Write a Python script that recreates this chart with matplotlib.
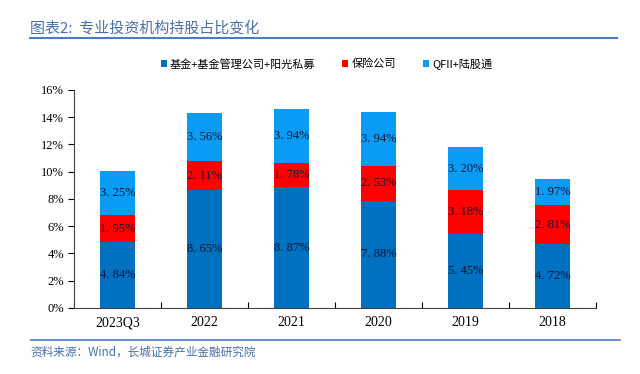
import matplotlib
matplotlib.use('Agg')
import matplotlib.pyplot as plt
import numpy as np

# data
periods = ['2023Q3', '2022', '2021', '2020', '2019', '2018']
fund = [4.84, 8.65, 8.87, 7.88, 5.45, 4.72]
insurance = [1.95, 2.11, 1.78, 2.53, 3.18, 2.81]
qfii = [3.25, 3.56, 3.94, 3.94, 3.20, 1.97]
series_names = ['基金+基金管理公司+阳光私募', '保险公司', 'QFII+陆股通']
yticks = [0, 2, 4, 6, 8, 10, 12, 14, 16]

colors = ['#0070C0', '#FF0000', '#0A9CF5']
serif = ['Liberation Serif', 'Noto Sans CJK SC']
cjk = ['Noto Sans CJK SC', 'DejaVu Sans']
title_color = '#4A6FA5'

plt.rcParams['font.family'] = serif

fig = plt.figure(figsize=(6.4, 3.74), dpi=100)
ax = fig.add_axes([0.1156, 0.1765, 0.8156, 0.5829])

x = np.arange(len(periods))
bottom = np.zeros(len(periods))
for vals, c, name in zip([fund, insurance, qfii], colors, series_names):
    ax.bar(x, vals, width=0.4, bottom=bottom, color=c, label=name)
    for xi, b, v in zip(x, bottom, vals):
        txt = ('%.2f%%' % v).replace('.', '. ')
        ax.text(xi, b + v / 2, txt, ha='center', va='center', fontsize=9,
                color='#151530', family=serif)
    bottom = bottom + np.array(vals)

ax.set_xlim(-0.5, len(periods) - 0.5)
ax.set_ylim(0, 16)
ax.set_yticks(yticks)
ax.set_yticklabels(['%d%%' % t for t in yticks], fontsize=9)
ax.set_xticks(np.arange(len(periods) + 1) - 0.5, minor=False)
ax.set_xticklabels([])
ax.set_xticks(x, minor=True)
ax.set_xticklabels(periods, minor=True, fontsize=10)
ax.tick_params(axis='x', which='minor', length=0, pad=6)
ax.tick_params(axis='x', which='major', length=4, direction='in', width=0.8)
ax.tick_params(axis='y', length=4, direction='out', width=0.8, pad=3)
for s in ['top', 'right']:
    ax.spines[s].set_visible(False)
ax.spines['left'].set_color('#444444')
ax.spines['bottom'].set_color('#444444')

fig.legend(loc='center', bbox_to_anchor=(0.51, 0.829), ncol=3, frameon=False,
           prop={'family': cjk, 'size': 8}, handlelength=0.55, handleheight=0.55,
           handletextpad=0.3, columnspacing=2.4)

# title and source
fig.text(0.047, 0.925, '图表2:  专业投资机构持股占比变化', fontsize=10.8, color=title_color,
         style='italic', family=cjk, va='center')
fig.add_artist(plt.Line2D([0.047, 0.964], [0.898, 0.898], color='#4A7CC4', lw=1.5))
fig.add_artist(plt.Line2D([0.048, 0.968], [0.091, 0.091], color='#4A7CC4', lw=1.2))
fig.text(0.048, 0.058, '资料来源：Wind，长城证券产业金融研究院', fontsize=8.4, color=title_color,
         style='italic', family=cjk, va='center')

fig.savefig('out.png', dpi=100)
